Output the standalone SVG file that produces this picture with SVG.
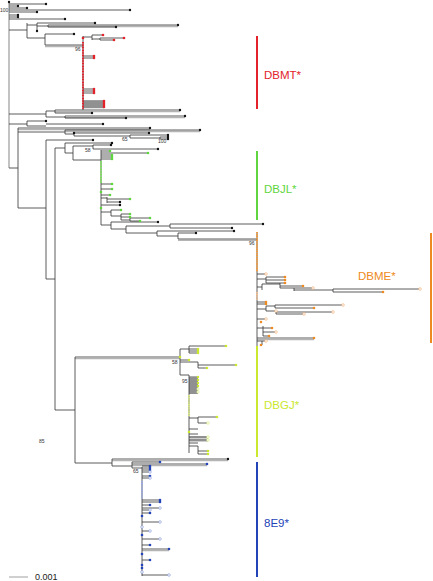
<svg xmlns="http://www.w3.org/2000/svg" width="433" height="581" viewBox="0 0 433 581">
<style>
.b{stroke:#333;stroke-width:0.8;fill:none}
.s{stroke:#b4b4b4;stroke-width:1.3;fill:none}
.k{fill:#111}
.r{fill:#e3222b}
.gd{fill:#5fd640}
.od{fill:#ee8a22}
.oo{fill:#fff;stroke:#f0a868;stroke-width:0.6}
.yd{fill:#cbe82e}
.yo{fill:#fff;stroke:#d4ec70;stroke-width:0.6}
.bd{fill:#2344b8}
.bo{fill:#fff;stroke:#7e92d6;stroke-width:0.6}
.bs{font-family:"Liberation Sans",Arial,sans-serif;font-size:5px;fill:#333}
.cl{font-family:"Liberation Sans",Arial,sans-serif;font-size:11.5px}
</style>
<rect width="433" height="581" fill="#fff"/>
<g id="connectors">
<path class="s" d="M48 26.5H178M45 46.5H83M18 129.6H150M65 131.5H200M178 240.4H257M112 460.6H228M132 465.6H207M257 339.6H314M142 550.6H169M75 358.6H180M55 111.6H180M65 117.6H185"/>
<rect x="83" y="100.5" width="21" height="8" fill="#cfcfcf"/>
<rect x="189" y="377" width="9" height="17" fill="#cfcfcf"/>
<rect x="189" y="436" width="19" height="6" fill="#cfcfcf"/>
<path d="M9 2V168" stroke="#9a9a9a" stroke-width="1.2" fill="none"/>
<path class="b" d="M9 4H46M9 6H18M9 8H27M9 10H130M9 12H37M9 15H18M9 17H18M9 19H65
M9 30H27M27 23V38M27 25H37M37 23V31M37 23H95M37 26H48M48 25V27M48 25H178M48 27H116M27 38H45M45 34V45M45 34H74M45 45H83
M83 36V110M83 37H92M92 35V40M92 35H103M92 39H100M100 38V40M100 38H124M100 40H114
M83 56H94M83 58H94M83 89H94M83 91H94M83 93H94M83 101H104M83 103H104M83 105H104M83 107H104
M9 114H46M46 111V117M46 111H55M55 110V113M55 110H180M55 113H92M46 117H65M65 116V118M65 116H185M65 118H126
M9 124H27M27 121V126M27 121H46M27 126H46M46 124H103
M9 168H18M18 128V208M18 128H150M18 132H65M65 130V134M65 130H200M65 134H74M74 133V136M74 133H149M74 136H130M130 135V138M130 135H168M130 138H160M160 137V139M160 137H168M160 139H168
M18 208H46M46 140V279M46 140H93M46 279H55M55 148V410M55 148H65M65 143V153M65 143H112M65 153H73M73 146V160M73 146H93M93 145V149M93 145H111M93 149H158M73 160H101
M101 150V225M101 151H110M101 153H148M101 155H112M101 157H112M101 159H112M101 184H112M101 189H112M101 195H110M101 198H107M107 197V203M107 199H130M107 202H120M101 205H120
M101 212H111M111 210V216M111 210H121M111 216H121M121 214V220M121 214H130M121 217H130M121 220H130M130 218V221M130 218H150M130 221H140
M101 225H111M111 222V229M111 222H158M111 229H126M126 226V233M126 226H170M170 224V228M170 224H263M170 228H232M126 233H157M157 231V236M157 231H234M157 236H178M178 233V239M178 233H196M178 239H257
M257 232V347M257 274H266M257 279H266M266 277V283M266 277H285M266 280H285M266 283H285
M257 287H262M262 284V290M262 284H280M280 283V288M280 286H303M280 288H294M294 288V291M294 288H313M294 290H333M333 289V292M333 289H420M333 292H383
M257 302H266M257 304H266M257 309H266M266 306V311M266 306H275M275 305V308M275 305H343M275 308H314M266 311H276M276 311V314M276 312H333M276 314H304
M257 319H266M257 328H263M263 326V336M263 328H272M263 332H276M263 336H269M257 338H314M257 341H262M262 341V345M262 341H266
M55 410H75M75 357V463M75 357H180M180 349V375M180 349H189M189 346V353M189 346H226M189 349H198M189 351H198M189 353H198
M180 362H198M198 362V368M198 365H236M198 368H207M180 360H189
M180 375H189M189 375V453M189 377H198M189 379H198M189 381H198M189 383H198M189 385H198M189 387H198M189 389H198M189 391H198M189 393H198
M189 418H198M198 417V423M198 417H217M198 423H208M189 429H198M189 434H198M189 437H208M189 440H208M189 443H198M189 446H198M198 446V454M198 451H208M198 454H208
M75 463H112M112 459V466M112 459H228M112 466H132M132 462V468M132 462H160M132 464H207M132 468H142M142 467V576
M142 466H150M142 468H150M142 470H150M142 472H150M142 476H150M142 478H150M142 500H160M142 502H160M142 505H150M142 508H160M142 510H150M142 513H150M142 522H160M142 531H150M142 539H160M142 545H150M142 549H169M142 560H150M142 575H169"/>
<path d="M83 42V109" stroke="#e3222b" stroke-width="2" stroke-dasharray="1.1 0.5" fill="none"/>
<path d="M101 161V183" stroke="#7ee060" stroke-width="2" stroke-dasharray="1.1 0.5" fill="none"/>
<path d="M257 232V272" stroke="#f09a40" stroke-width="2" stroke-dasharray="1.3 0.6" fill="none"/>
<path d="M257 292V300" stroke="#f5c090" stroke-width="1.8" stroke-dasharray="1.2 0.6" fill="none"/>
<path d="M189 395V416" stroke="#dcef80" stroke-width="1.8" stroke-dasharray="1.2 0.6" fill="none"/>
<path d="M142 481V499" stroke="#9aa8e0" stroke-width="1.8" stroke-dasharray="1.2 0.6" fill="none"/>
</g>
<g id="leaves">
<circle class="k" cx="9" cy="2" r="1.2"/><circle class="k" cx="46" cy="4" r="1.2"/><circle class="k" cx="18" cy="6" r="1.2"/><circle class="k" cx="27" cy="8" r="1.2"/><circle class="k" cx="130" cy="10" r="1.2"/><circle class="k" cx="37" cy="12" r="1.2"/><circle class="k" cx="18" cy="15" r="1.2"/><circle class="k" cx="18" cy="17" r="1.2"/><circle class="k" cx="65" cy="19" r="1.2"/><circle class="k" cx="95" cy="23" r="1.2"/><circle class="k" cx="178" cy="25" r="1.2"/><circle class="k" cx="116" cy="27" r="1.2"/><circle class="k" cx="37" cy="31" r="1.2"/><circle class="k" cx="74" cy="34" r="1.2"/>
<circle class="r" cx="103" cy="35" r="1.3"/><circle class="r" cx="124" cy="38" r="1.3"/><circle class="r" cx="114" cy="40" r="1.3"/><circle class="r" cx="83" cy="38" r="1.3"/><circle class="r" cx="94" cy="56" r="1.3"/><circle class="r" cx="94" cy="58" r="1.3"/><circle class="r" cx="94" cy="89" r="1.3"/><circle class="r" cx="94" cy="91" r="1.3"/><circle class="r" cx="94" cy="93" r="1.3"/><circle class="r" cx="104" cy="101" r="1.3"/><circle class="r" cx="104" cy="103" r="1.3"/><circle class="r" cx="104" cy="105" r="1.3"/><circle class="r" cx="104" cy="107" r="1.3"/>
<circle class="k" cx="180" cy="110" r="1.2"/><circle class="k" cx="92" cy="113" r="1.2"/><circle class="k" cx="185" cy="116" r="1.2"/><circle class="k" cx="126" cy="118" r="1.2"/><circle class="k" cx="46" cy="121" r="1.2"/><circle class="k" cx="103" cy="124" r="1.2"/><circle class="k" cx="150" cy="128" r="1.2"/><circle class="k" cx="200" cy="130" r="1.2"/><circle class="k" cx="149" cy="133" r="1.2"/><circle class="k" cx="168" cy="135" r="1.2"/><circle class="k" cx="168" cy="137" r="1.2"/><circle class="k" cx="168" cy="139" r="1.2"/><circle class="k" cx="74" cy="133" r="1.2"/>
<circle class="k" cx="93" cy="140" r="1.2"/><circle class="k" cx="112" cy="143" r="1.2"/><circle class="k" cx="111" cy="145" r="1.2"/><circle class="k" cx="158" cy="149" r="1.2"/>
<circle class="gd" cx="110" cy="151" r="1.3"/><circle class="gd" cx="148" cy="153" r="1.3"/><circle class="gd" cx="112" cy="155" r="1.3"/><circle class="gd" cx="112" cy="157" r="1.3"/><circle class="gd" cx="112" cy="159" r="1.3"/><circle class="gd" cx="112" cy="184" r="1.3"/><circle class="gd" cx="112" cy="189" r="1.3"/><circle class="gd" cx="101" cy="192" r="1.3"/><circle class="gd" cx="110" cy="195" r="1.3"/><circle class="gd" cx="130" cy="199" r="1.3"/><circle class="k" cx="120" cy="202" r="1.2"/><circle class="k" cx="120" cy="205" r="1.2"/><circle class="gd" cx="101" cy="208" r="1.3"/><circle class="gd" cx="121" cy="210" r="1.3"/><circle class="gd" cx="130" cy="214" r="1.3"/><circle class="gd" cx="130" cy="217" r="1.3"/><circle class="gd" cx="150" cy="218" r="1.3"/><circle class="gd" cx="140" cy="221" r="1.3"/>
<circle class="k" cx="158" cy="222" r="1.2"/><circle class="k" cx="263" cy="224" r="1.2"/><circle class="k" cx="232" cy="228" r="1.2"/><circle class="k" cx="234" cy="231" r="1.2"/><circle class="k" cx="196" cy="233" r="1.2"/>
<circle class="oo" cx="266" cy="274" r="1.3"/><circle class="od" cx="285" cy="277" r="1.3"/><circle class="od" cx="285" cy="280" r="1.3"/><circle class="od" cx="285" cy="283" r="1.3"/><circle class="od" cx="303" cy="286" r="1.3"/><circle class="oo" cx="313" cy="288" r="1.3"/><circle class="oo" cx="420" cy="289" r="1.3"/><circle class="od" cx="383" cy="292" r="1.3"/><circle class="od" cx="266" cy="302" r="1.3"/><circle class="od" cx="266" cy="304" r="1.3"/><circle class="oo" cx="343" cy="305" r="1.3"/><circle class="od" cx="314" cy="308" r="1.3"/><circle class="oo" cx="276" cy="311" r="1.3"/><circle class="oo" cx="333" cy="312" r="1.3"/><circle class="oo" cx="304" cy="314" r="1.3"/><circle class="oo" cx="266" cy="319" r="1.3"/><circle class="od" cx="261" cy="322" r="1.3"/><circle class="od" cx="272" cy="328" r="1.3"/><circle class="oo" cx="276" cy="332" r="1.3"/><circle class="od" cx="269" cy="336" r="1.3"/><circle class="od" cx="314" cy="338" r="1.3"/><circle class="oo" cx="266" cy="341" r="1.3"/><circle class="od" cx="261" cy="345" r="1.3"/>
<circle class="yd" cx="226" cy="346" r="1.3"/><circle class="yd" cx="198" cy="349" r="1.3"/><circle class="yd" cx="198" cy="351" r="1.3"/><circle class="yd" cx="198" cy="353" r="1.3"/><circle class="yd" cx="180" cy="357" r="1.3"/><circle class="yd" cx="189" cy="360" r="1.3"/><circle class="yd" cx="236" cy="365" r="1.3"/><circle class="yd" cx="207" cy="368" r="1.3"/>
<circle class="yd" cx="198" cy="377" r="1.2"/><circle class="yd" cx="198" cy="380" r="1.2"/><circle class="yd" cx="198" cy="383" r="1.2"/><circle class="yd" cx="198" cy="386" r="1.2"/><circle class="yo" cx="198" cy="389" r="1.2"/><circle class="yo" cx="198" cy="392" r="1.2"/>
<circle class="yd" cx="217" cy="417" r="1.3"/><circle class="yo" cx="208" cy="423" r="1.3"/><circle class="yd" cx="189" cy="432" r="1.3"/><circle class="yo" cx="208" cy="437" r="1.3"/><circle class="yo" cx="208" cy="440" r="1.3"/><circle class="yd" cx="208" cy="451" r="1.3"/><circle class="yd" cx="208" cy="454" r="1.3"/>
<circle class="k" cx="228" cy="459" r="1.2"/><circle class="bd" cx="160" cy="462" r="1.3"/><circle class="bd" cx="207" cy="464" r="1.3"/>
<circle class="bd" cx="150" cy="466" r="1.3"/><circle class="bd" cx="150" cy="468" r="1.3"/><circle class="bd" cx="150" cy="470" r="1.3"/><circle class="bo" cx="150" cy="472" r="1.3"/><circle class="bd" cx="150" cy="476" r="1.3"/><circle class="bo" cx="150" cy="478" r="1.3"/><circle class="bd" cx="160" cy="500" r="1.3"/><circle class="bd" cx="160" cy="502" r="1.3"/><circle class="bd" cx="150" cy="505" r="1.3"/><circle class="bo" cx="160" cy="508" r="1.3"/><circle class="bo" cx="150" cy="510" r="1.3"/><circle class="bd" cx="150" cy="513" r="1.3"/><circle class="bd" cx="142" cy="516" r="1.3"/><circle class="bo" cx="160" cy="522" r="1.3"/><circle class="bo" cx="142" cy="527" r="1.3"/><circle class="bo" cx="150" cy="531" r="1.3"/><circle class="bd" cx="142" cy="535" r="1.3"/><circle class="bo" cx="160" cy="539" r="1.3"/><circle class="bd" cx="150" cy="545" r="1.3"/><circle class="bd" cx="169" cy="549" r="1.3"/><circle class="bd" cx="142" cy="554" r="1.3"/><circle class="bd" cx="150" cy="560" r="1.3"/><circle class="bd" cx="142" cy="565" r="1.3"/><circle class="bd" cx="142" cy="568" r="1.3"/><circle class="bo" cx="142" cy="572" r="1.3"/><circle class="bo" cx="169" cy="575" r="1.3"/>
</g>
<g id="support">
<text class="bs" x="0" y="12">100</text>
<text class="bs" x="75" y="51">96</text>
<text class="bs" x="122" y="141">65</text>
<text class="bs" x="158" y="143">100</text>
<text class="bs" x="85" y="152">58</text>
<text class="bs" x="249" y="245">96</text>
<text class="bs" x="172" y="364">58</text>
<text class="bs" x="182" y="383">95</text>
<text class="bs" x="39" y="443">85</text>
<text class="bs" x="133" y="473">65</text>
</g>
<g id="clade-DBMT"><path d="M257 36V109" stroke="#e3222b" stroke-width="2"/><text class="cl" x="264" y="79" fill="#e3222b">DBMT*</text></g>
<g id="clade-DBJL"><path d="M257 151V220" stroke="#5fd640" stroke-width="2"/><text class="cl" x="264" y="193" fill="#5fd640">DBJL*</text></g>
<g id="clade-DBME"><path d="M431 233V343" stroke="#ee8a22" stroke-width="2"/><text class="cl" x="358" y="280" fill="#ee8a22">DBME*</text></g>
<g id="clade-DBGJ"><path d="M257 346V457" stroke="#cbe82e" stroke-width="2"/><text class="cl" x="264" y="409" fill="#cbe82e">DBGJ*</text></g>
<g id="clade-8E9"><path d="M257 462V577" stroke="#2344b8" stroke-width="2"/><text class="cl" x="264" y="527" fill="#2344b8">8E9*</text></g>
<g id="scale"><path d="M9 577H28" stroke="#888" stroke-width="0.8"/><text x="35" y="580" font-family="Liberation Sans,Arial,sans-serif" font-size="9" fill="#222">0.001</text></g>
</svg>
